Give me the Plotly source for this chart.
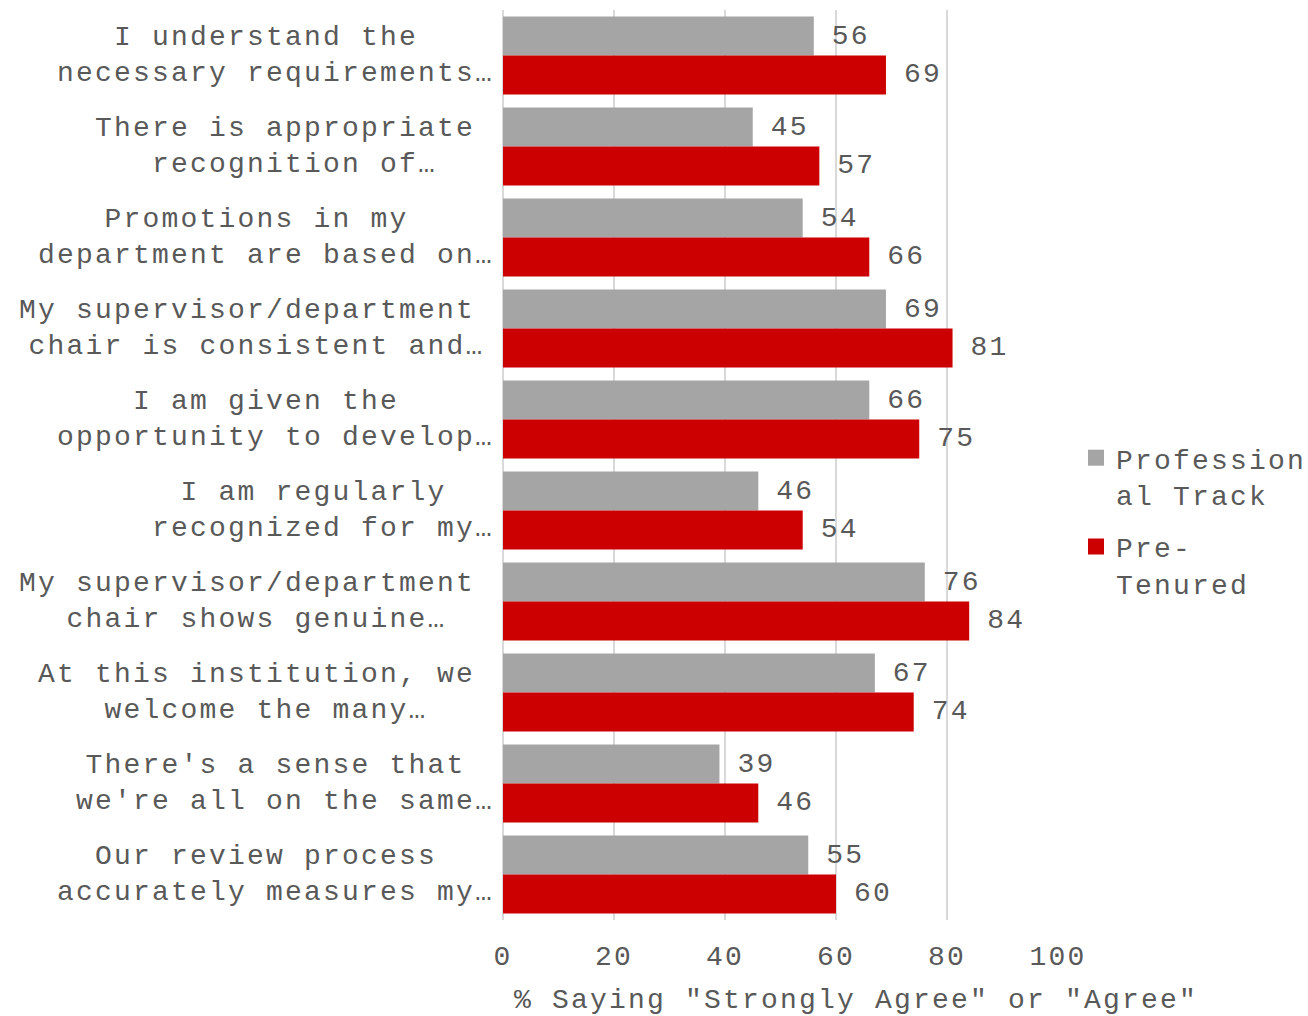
import plotly.graph_objects as go

# Survey statements (two wrapped lines each), top to bottom
label_line1 = [
    "I understand the",
    "There is appropriate",
    "Promotions in my",
    "My supervisor/department",
    "I am given the",
    "I am regularly",
    "My supervisor/department",
    "At this institution, we",
    "There's a sense that",
    "Our review process",
]
label_line2 = [
    "necessary requirements…",
    "recognition of…",
    "department are based on…",
    "chair is consistent and…",
    "opportunity to develop…",
    "recognized for my…",
    "chair shows genuine…",
    "welcome the many…",
    "we're all on the same…",
    "accurately measures my…",
]
categories = [f"{a} {b}" for a, b in zip(label_line1, label_line2)]

series_names = [("Profession", "al Track"), ("Pre-", "Tenured")]
series_colors = ["#A5A5A5", "#CC0000"]
professional_track = [56, 45, 54, 69, 66, 46, 76, 67, 39, 55]
pre_tenured = [69, 57, 66, 81, 75, 54, 84, 74, 46, 60]

x_ticks = [0, 20, 40, 60, 80, 100]
x_title = '% Saying "Strongly Agree" or "Agree"'

FONT = "Liberation Mono, Courier New, monospace"
TEXT_COLOR = "#595959"
SPACING = "letter-spacing:2.2px"


def spaced(s):
    return f'<span style="{SPACING}">{s}</span>'


W, H = 1308, 1016
L, R, T, B = 503, 250, 10, 96
plot_w = W - L - R
plot_h = H - T - B

# value label: a narrow gap then the number
label_template = ('<span style="letter-spacing:-1.8px">\u00a0</span>'
                  + spaced("%{x}"))

fig = go.Figure()
for values, color, (n1, n2) in zip([professional_track, pre_tenured],
                                   series_colors, series_names):
    name = spaced(n1) + "<br>" + spaced(n2)
    fig.add_trace(go.Bar(
        name=name, legendgroup=n1, showlegend=False,
        y=categories, x=values, orientation="h",
        marker=dict(color=color, line=dict(width=0)),
        text=values, texttemplate=label_template,
        textposition="outside", constraintext="none", cliponaxis=False,
        textfont=dict(family=FONT, size=28, color=TEXT_COLOR),
    ))
    # legend entry with a larger square swatch
    fig.add_trace(go.Scatter(
        name=name, legendgroup=n1, showlegend=True,
        x=[None], y=[None], mode="markers",
        marker=dict(symbol="square", size=16, color=color),
    ))

annotations = []
for cat, a, b in zip(categories, label_line1, label_line2):
    annotations.append(dict(
        xref="paper", yref="y", x=-7 / plot_w, y=cat,
        xanchor="right", yanchor="middle", align="center",
        text=spaced(a + "\u00a0") + "<br>" + spaced(b), showarrow=False,
        font=dict(family=FONT, size=28, color=TEXT_COLOR),
    ))

annotations.append(dict(
    xref="paper", yref="paper",
    x=(856 - L) / plot_w, y=-(1001 - (T + plot_h)) / plot_h,
    xanchor="center", yanchor="middle",
    text=spaced(x_title), showarrow=False,
    font=dict(family=FONT, size=28, color=TEXT_COLOR),
))

fig.update_layout(
    width=W, height=H,
    margin=dict(l=L, r=R, t=T, b=B, autoexpand=False),
    paper_bgcolor="white", plot_bgcolor="white",
    barmode="group", bargap=0.143, bargroupgap=0,
    font=dict(family=FONT, size=28, color=TEXT_COLOR),
    showlegend=True,
    legend=dict(
        xref="container", yref="container",
        x=1076 / W, y=1 - 433 / H, xanchor="left", yanchor="top",
        font=dict(family=FONT, size=28, color=TEXT_COLOR),
        valign="top", traceorder="grouped", tracegroupgap=13,
        itemwidth=30, itemsizing="trace",
        bgcolor="rgba(0,0,0,0)",
    ),
    xaxis=dict(
        range=[0, 100], tickvals=x_ticks,
        ticktext=[spaced(str(v)) for v in x_ticks],
        showgrid=True, gridcolor="#D9D9D9", gridwidth=1.5,
        zeroline=True, zerolinecolor="#D9D9D9", zerolinewidth=1.5,
        showline=False, ticks="", ticklabelstandoff=16,
        tickfont=dict(family=FONT, size=28, color=TEXT_COLOR),
        fixedrange=True,
    ),
    yaxis=dict(
        autorange="reversed", showticklabels=False, showgrid=False,
        zeroline=False, showline=False, ticks="", fixedrange=True,
    ),
    annotations=annotations,
)

fig.write_html("out.html")
